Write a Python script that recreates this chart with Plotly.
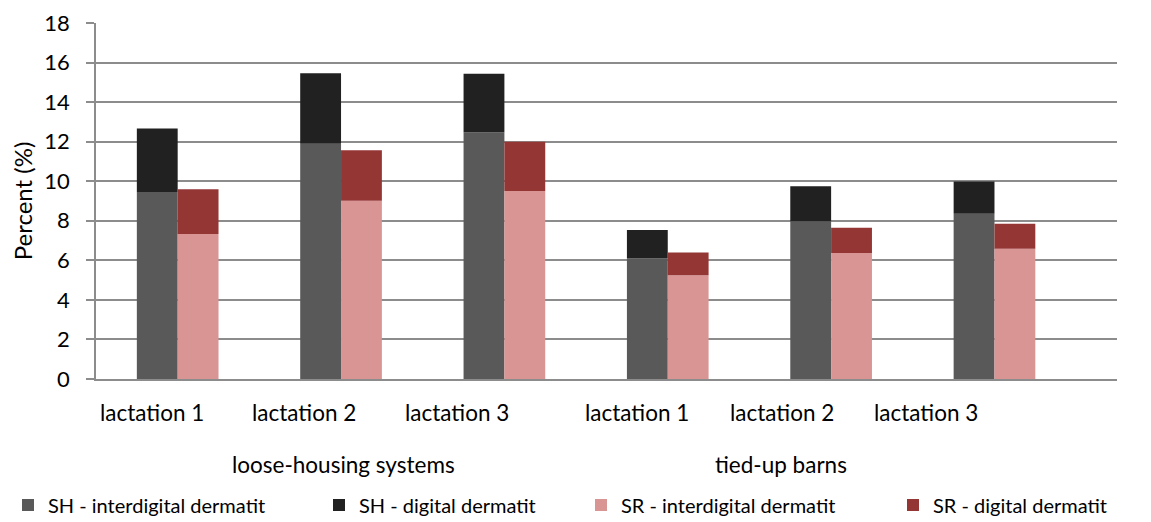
import plotly.graph_objects as go

# categories (housing system / lactation)
groups = ["loose-housing systems"] * 3 + ["tied-up barns"] * 3
lactations = ["lactation 1", "lactation 2", "lactation 3"] * 2

# values (percent)
sh_interdigital = [9.46, 11.89, 12.48, 6.11, 7.97, 8.35]
sh_digital = [3.20, 3.57, 2.96, 1.43, 1.78, 1.64]
sr_interdigital = [7.33, 9.01, 9.51, 5.25, 6.37, 6.58]
sr_digital = [2.27, 2.56, 2.48, 1.15, 1.28, 1.27]

FONT = "Lato"
x = [groups, lactations]

fig = go.Figure()
fig.add_trace(go.Bar(x=x, y=sh_interdigital, name="SH - interdigital dermatit", legend="legend",
                     offsetgroup="SH", marker=dict(color="#595959", line_width=0)))
fig.add_trace(go.Bar(x=x, y=sh_digital, base=sh_interdigital, name="SH - digital dermatit",
                     legend="legend2", offsetgroup="SH", marker=dict(color="#212121", line_width=0)))
fig.add_trace(go.Bar(x=x, y=sr_interdigital, name="SR - interdigital dermatit", legend="legend3",
                     offsetgroup="SR", marker=dict(color="#d99594", line_width=0)))
fig.add_trace(go.Bar(x=x, y=sr_digital, base=sr_interdigital, name="SR - digital dermatit",
                     legend="legend4", offsetgroup="SR", marker=dict(color="#943634", line_width=0)))

# category labels are placed like in the original figure (not centred on the bars)
lact_pos = [0.0553, 0.2037, 0.354, 0.530, 0.6716, 0.813]
for lab, px in zip(lactations, lact_pos):
    fig.add_annotation(text=lab, x=px, y=-0.0946, xref="paper", yref="paper",
                       xanchor="center", yanchor="middle", showarrow=False,
                       font=dict(family=FONT, size=22.5, color="#000000"))
for lab, px in zip(["loose-housing systems", "tied-up barns"], [0.242, 0.671]):
    fig.add_annotation(text=lab, x=px, y=-0.2405, xref="paper", yref="paper",
                       xanchor="center", yanchor="middle", showarrow=False,
                       font=dict(family=FONT, size=22.5, color="#000000"))


def leg(xpos):
    return dict(orientation="h", xref="container", yref="container",
                x=xpos, xanchor="left", y=0.048, yanchor="middle",
                font=dict(family=FONT, size=20), bgcolor="rgba(0,0,0,0)")


fig.update_layout(
    width=1151, height=522,
    margin=dict(l=88, r=42, t=15, b=151),
    paper_bgcolor="white", plot_bgcolor="white",
    barmode="group", bargap=0.5, bargroupgap=0,
    font=dict(family=FONT, size=22, color="#000000"),
    showlegend=True,
    legend=leg(0.0), legend2=leg(311 / 1151), legend3=leg(573 / 1151), legend4=leg(885 / 1151),
)
fig.update_xaxes(type="multicategory", showticklabels=False, showdividers=False,
                 range=[-0.5, 5.75], showline=True, linecolor="#8c8c8c", linewidth=1.5,
                 showgrid=False, ticks="", automargin=False)
fig.update_yaxes(range=[0, 18], dtick=2, showgrid=True, gridcolor="#8c8c8c", gridwidth=1.5,
                 showline=True, linecolor="#8c8c8c", linewidth=1.5,
                 ticks="outside", ticklen=8, tickcolor="#8c8c8c", tickwidth=1.5,
                 ticklabelstandoff=12, zeroline=False, automargin=False,
                 title=dict(text="Percent (%)", font=dict(family=FONT, size=24), standoff=10))

fig.write_html("out.html")
